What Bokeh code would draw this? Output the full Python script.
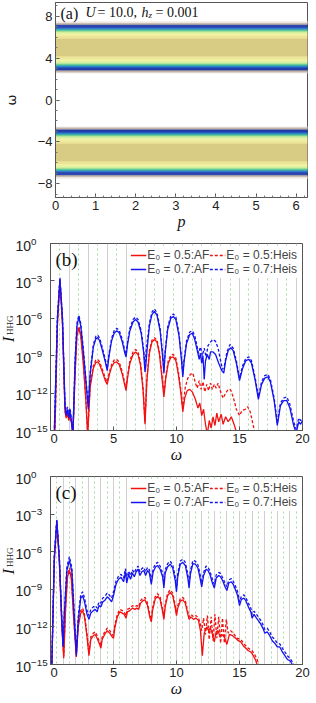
import numpy as np
from bokeh.plotting import figure
from bokeh.models import (Range1d, FixedTicker, Label, Legend, LegendItem,
                          LinearColorMapper, ColumnDataSource, CustomJSTickFormatter)
from bokeh.layouts import column, row
from bokeh.core.properties import value
from bokeh.embed import file_html
from bokeh.resources import INLINE

# ---------------- panel (a): spectral weight vs omega (independent of p) ----------------
p_min, p_max = 0.0, 2 * np.pi
band_edges = [2.55, 2.65, 2.75, 2.85, 2.95, 3.05, 3.15, 3.25, 3.35, 3.45, 3.60, 3.75, 3.95, 4.20,
              5.90, 6.15, 6.35, 6.50, 6.60, 6.70, 6.80, 6.90, 7.00, 7.10, 7.20, 7.30, 7.40, 7.50]
band_weight = [0.03, 0.10, 0.13, 0.95, 1.00, 0.90, 0.80, 0.68, 0.58, 0.48, 0.40, 0.34, 0.30, 0.25,
               0.30, 0.34, 0.42, 0.50, 0.58, 0.68, 0.80, 0.92, 1.00, 0.95, 0.13, 0.10, 0.03]

# ---------------- panel (b): omega0 = 0.75 ; pairs [omega, log10 I] ----------------
b_omega0 = 0.75
b_af05 = [[0.35,-15.2],[0.55,-6.5],[0.75,-2.95],[0.95,-6.5],[1.15,-13.5],[1.25,-14.0],[1.35,-13.6],[1.45,-14.2],
          [1.55,-13.8],[1.65,-14.3],[1.78,-15.3],[1.95,-10.5],[2.1,-7.4],[2.25,-6.8],[2.4,-7.4],[2.6,-9.6],
          [2.8,-12.5],[2.95,-15.3],[3.15,-11.5],[3.4,-10.0],[3.6,-9.55],[3.75,-9.5],[3.9,-9.7],[4.15,-10.4],
          [4.35,-11.0],[4.5,-11.3],[4.65,-10.6],[4.85,-9.9],[5.05,-9.55],[5.25,-9.5],[5.45,-9.7],[5.7,-10.5],
          [5.9,-11.4],[6.0,-11.8],[6.1,-10.9],[6.3,-9.6],[6.55,-8.9],[6.75,-8.7],[6.95,-8.9],[7.15,-9.8],
          [7.35,-11.8],[7.5,-14.5],[7.65,-11.0],[7.85,-8.8],[8.05,-7.9],[8.25,-7.7],[8.45,-7.9],[8.65,-8.9],
          [8.85,-10.8],[9.0,-12.3],[9.15,-10.8],[9.35,-9.6],[9.55,-9.15],[9.75,-9.1],[9.95,-9.4],[10.15,-10.5],
          [10.35,-12.0],[10.5,-13.5],[10.65,-12.4],[10.85,-11.8],[11.05,-11.7],[11.25,-11.9],[11.5,-12.5],
          [11.7,-13.2],[11.85,-12.8],[12.0,-13.8],[12.15,-13.3],[12.3,-14.5],[12.45,-15.3],[12.6,-14.2],
          [12.75,-14.8],[12.9,-13.9],[13.05,-14.6],[13.2,-13.6],[13.35,-14.3],[13.55,-13.7],[13.7,-14.5],
          [13.9,-13.9],[14.1,-14.3],[14.35,-13.9],[14.6,-14.6],[14.8,-15.3]]
b_heis05 = [[0.35,-15.2],[0.55,-6.4],[0.75,-2.9],[0.95,-6.4],[1.15,-13.3],[1.25,-13.9],[1.35,-13.4],[1.45,-14.0],
            [1.55,-13.6],[1.65,-14.2],[1.78,-15.3],[1.95,-10.3],[2.1,-7.2],[2.25,-6.65],[2.4,-7.2],[2.6,-9.4],
            [2.8,-12.3],[2.95,-15.3],[3.15,-11.3],[3.4,-9.8],[3.6,-9.35],[3.75,-9.3],[3.9,-9.5],[4.15,-10.2],
            [4.35,-10.8],[4.5,-11.1],[4.65,-10.4],[4.85,-9.7],[5.05,-9.35],[5.25,-9.3],[5.45,-9.5],[5.7,-10.3],
            [5.9,-11.2],[6.0,-11.6],[6.1,-10.7],[6.3,-9.4],[6.55,-8.7],[6.75,-8.5],[6.95,-8.7],[7.15,-9.6],
            [7.35,-11.6],[7.5,-14.3],[7.65,-10.8],[7.85,-8.6],[8.05,-7.75],[8.25,-7.55],[8.45,-7.75],[8.65,-8.7],
            [8.85,-10.6],[9.0,-12.1],[9.15,-10.6],[9.35,-9.4],[9.55,-8.95],[9.75,-8.9],[9.95,-9.2],[10.15,-10.3],
            [10.35,-11.8],[10.5,-13.2],[10.7,-11.5],[10.9,-10.8],[11.1,-10.5],[11.3,-10.4],[11.5,-11.2],
            [11.65,-11.6],[11.8,-11.0],[11.95,-11.7],[12.1,-11.1],[12.25,-11.9],[12.4,-11.3],[12.55,-11.8],
            [12.7,-11.2],[12.85,-11.7],[13.0,-11.3],[13.15,-11.6],[13.3,-11.2],[13.5,-11.9],[13.7,-12.4],
            [13.9,-12.0],[14.1,-11.7],[14.3,-11.75],[14.5,-12.3],[14.75,-13.3],[15.0,-13.8],[15.2,-13.4],
            [15.45,-13.3],[15.65,-13.1],[15.85,-13.5],[16.05,-14.4],[16.25,-15.3]]
b_af07 = [[0.30,-15.2],[0.55,-6.0],[0.75,-2.85],[0.95,-6.0],[1.15,-13.0],[1.25,-13.8],[1.35,-13.3],[1.45,-14.0],
          [1.55,-13.4],[1.65,-14.2],[1.78,-15.3],[1.95,-9.5],[2.10,-6.6],[2.25,-5.9],[2.40,-6.6],[2.60,-8.6],
          [2.85,-11.5],[3.00,-13.3],[3.15,-10.5],[3.40,-8.3],[3.60,-7.65],[3.75,-7.55],[3.90,-7.8],[4.10,-8.5],
          [4.35,-9.5],[4.50,-10.2],[4.65,-9.0],[4.85,-7.8],[5.05,-7.2],[5.25,-7.0],[5.45,-7.15],[5.70,-7.9],
          [5.90,-8.8],[6.00,-9.1],[6.10,-8.2],[6.30,-7.0],[6.55,-6.3],[6.75,-6.1],[6.95,-6.3],[7.20,-7.2],
          [7.40,-8.8],[7.45,-9.6],[7.50,-10.3],[7.55,-10.0],[7.65,-8.7],[7.85,-6.6],[8.05,-5.7],[8.25,-5.45],
          [8.45,-5.75],[8.70,-7.0],[8.90,-9.1],[9.00,-10.4],[9.10,-8.8],[9.30,-6.9],[9.55,-6.0],[9.75,-5.85],
          [9.95,-6.1],[10.20,-7.4],[10.40,-9.4],[10.50,-10.7],[10.60,-9.5],[10.80,-8.0],[11.05,-7.3],[11.25,-7.2],
          [11.45,-7.7],[11.65,-8.6],[11.80,-9.3],[11.90,-8.8],[12.00,-9.6],[12.10,-9.0],[12.20,-10.9],[12.30,-9.4],
          [12.45,-8.9],[12.60,-9.3],[12.70,-8.7],[12.90,-8.7],[13.10,-8.9],[13.35,-9.6],[13.60,-10.2],[13.75,-10.4],
          [13.90,-9.4],[14.10,-8.6],[14.30,-8.35],[14.50,-8.6],[14.75,-9.6],[15.00,-11.0],[15.25,-10.0],[15.50,-9.4],
          [15.75,-9.3],[15.95,-9.6],[16.25,-11.0],[16.50,-12.5],[16.75,-11.3],[17.00,-10.8],[17.25,-10.7],
          [17.45,-11.1],[17.75,-12.6],[18.00,-14.6],[18.25,-13.0],[18.50,-12.6],[18.75,-12.6],[19.00,-13.2],
          [19.30,-14.6],[19.50,-15.2],[19.70,-14.3],[19.85,-14.5],[20.00,-14.2]]
b_heis07 = [[0.30,-15.2],[0.55,-5.9],[0.75,-2.75],[0.95,-5.9],[1.15,-12.8],[1.25,-13.6],[1.35,-13.1],[1.45,-13.8],
            [1.55,-13.2],[1.65,-14.0],[1.78,-15.3],[1.95,-9.3],[2.10,-6.4],[2.25,-5.75],[2.40,-6.4],[2.60,-8.4],
            [2.85,-11.3],[3.00,-13.1],[3.15,-10.3],[3.40,-8.1],[3.60,-7.45],[3.75,-7.35],[3.90,-7.6],[4.10,-8.3],
            [4.35,-9.3],[4.50,-10.0],[4.65,-8.8],[4.85,-7.6],[5.05,-7.0],[5.25,-6.8],[5.45,-6.95],[5.70,-7.7],
            [5.90,-8.6],[6.00,-8.9],[6.10,-8.0],[6.30,-6.8],[6.55,-6.1],[6.75,-5.9],[6.95,-6.1],[7.20,-7.0],
            [7.40,-8.6],[7.50,-9.9],[7.60,-8.5],[7.85,-6.4],[8.05,-5.5],[8.25,-5.25],[8.45,-5.55],[8.70,-6.8],
            [8.90,-8.9],[9.00,-10.2],[9.10,-8.6],[9.30,-6.7],[9.55,-5.8],[9.75,-5.65],[9.95,-5.9],[10.20,-7.2],
            [10.40,-9.2],[10.50,-10.5],[10.60,-9.3],[10.80,-7.8],[11.05,-7.1],[11.25,-7.0],[11.45,-7.4],
            [11.60,-8.1],[11.75,-8.8],[11.90,-8.3],[12.05,-9.0],[12.20,-8.4],[12.35,-9.1],[12.50,-8.2],
            [12.70,-7.9],[12.90,-7.7],[13.10,-7.85],[13.30,-8.4],[13.50,-9.4],[13.65,-10.1],[13.80,-9.8],
            [14.00,-8.7],[14.25,-8.1],[14.50,-8.4],[14.75,-9.4],[15.00,-10.8],[15.25,-9.8],[15.50,-9.2],
            [15.75,-9.1],[15.95,-9.4],[16.25,-10.8],[16.50,-12.3],[16.75,-11.1],[17.00,-10.6],[17.25,-10.5],
            [17.45,-10.9],[17.75,-12.4],[18.00,-14.4],[18.25,-12.8],[18.50,-12.4],[18.75,-12.3],[19.00,-12.9],
            [19.30,-14.3],[19.50,-14.9],[19.70,-14.0],[19.85,-14.2],[20.00,-14.0]]

# ---------------- panel (c): omega0 = 0.5 ; pairs [omega, log10 I] ----------------
c_omega0 = 0.5
c_af05 = [[0.1,-15.3],[0.3,-6.8],[0.5,-3.65],[0.7,-6.8],[0.9,-12.0],[1.05,-14.5],[1.2,-10.5],[1.35,-8.0],
          [1.5,-7.5],[1.65,-8.1],[1.85,-11.5],[2.05,-14.4],[2.2,-12.0],[2.4,-10.9],[2.55,-10.7],[2.7,-11.2],
          [2.9,-12.8],[3.05,-14.3],[3.2,-13.0],[3.4,-12.7],[3.55,-12.6],[3.7,-12.9],[3.9,-13.4],[4.0,-13.7],
          [4.1,-13.0],[4.3,-12.6],[4.5,-12.3],[4.7,-12.5],[4.9,-12.8],[5.0,-12.9],[5.1,-12.1],[5.3,-11.2],
          [5.5,-10.8],[5.7,-10.9],[5.85,-11.0],[6.0,-11.3],[6.1,-10.8],[6.3,-10.7],[6.5,-10.5],[6.7,-10.6],
          [6.85,-10.5],[7.0,-10.6],[7.15,-10.1],[7.35,-9.9],[7.5,-9.85],[7.7,-10.3],[7.9,-11.3],[8.0,-11.6],
          [8.1,-10.7],[8.3,-9.8],[8.5,-9.55],[8.7,-9.8],[8.9,-10.8],[9.0,-11.4],[9.1,-10.4],[9.3,-9.5],
          [9.5,-9.25],[9.7,-9.5],[9.9,-10.5],[10.0,-11.1],[10.1,-10.5],[10.3,-9.95],[10.5,-9.85],[10.7,-10.1],
          [10.9,-11.0],[11.0,-11.4],[11.15,-11.2],[11.35,-11.4],[11.55,-11.3],[11.75,-11.5],[11.9,-12.3],
          [12.05,-14.3],[12.2,-12.5],[12.4,-12.0],[12.55,-12.3],[12.7,-12.1],[12.85,-12.6],[13.0,-13.2],
          [13.15,-12.4],[13.3,-12.3],[13.45,-12.8],[13.6,-12.6],[13.8,-12.8],[14.0,-13.4],[14.2,-12.6],
          [14.45,-12.7],[14.7,-12.9],[14.9,-13.1],[15.1,-13.2],[15.3,-13.5],[15.5,-13.7],[15.7,-13.9],
          [15.9,-14.0],[16.1,-14.3],[16.3,-14.7],[16.45,-15.2]]
c_heis05 = [[0.1,-15.3],[0.3,-6.7],[0.5,-3.55],[0.7,-6.7],[0.9,-11.8],[1.05,-14.3],[1.2,-10.3],[1.35,-7.8],
            [1.5,-7.3],[1.65,-7.9],[1.85,-11.3],[2.05,-14.2],[2.2,-11.8],[2.4,-10.7],[2.55,-10.5],[2.7,-11.0],
            [2.9,-12.6],[3.05,-14.1],[3.2,-12.8],[3.4,-12.5],[3.55,-12.4],[3.7,-12.7],[3.9,-13.2],[4.0,-13.5],
            [4.1,-12.8],[4.3,-12.4],[4.5,-12.1],[4.7,-12.3],[4.9,-12.6],[5.0,-12.7],[5.1,-11.9],[5.3,-11.0],
            [5.5,-10.6],[5.7,-10.7],[5.85,-10.8],[6.0,-11.1],[6.1,-10.6],[6.3,-10.5],[6.5,-10.3],[6.7,-10.4],
            [6.85,-10.3],[7.0,-10.4],[7.15,-9.9],[7.35,-9.7],[7.5,-9.65],[7.7,-10.1],[7.9,-11.1],[8.0,-11.4],
            [8.1,-10.5],[8.3,-9.6],[8.5,-9.35],[8.7,-9.6],[8.9,-10.6],[9.0,-11.2],[9.1,-10.2],[9.3,-9.3],
            [9.5,-9.05],[9.7,-9.3],[9.9,-10.3],[10.0,-10.9],[10.1,-10.3],[10.3,-9.75],[10.5,-9.65],[10.7,-9.9],
            [10.9,-10.8],[11.0,-11.2],[11.15,-11.0],[11.35,-11.2],[11.55,-11.1],[11.75,-11.3],[11.9,-11.8],
            [12.0,-12.3],[12.15,-11.3],[12.3,-12.6],[12.45,-11.1],[12.6,-13.0],[12.75,-11.2],[12.9,-13.1],
            [13.05,-11.0],[13.2,-12.9],[13.35,-11.2],[13.5,-13.3],[13.65,-11.3],[13.8,-13.3],[13.95,-11.4],
            [14.1,-12.5],[14.3,-12.3],[14.5,-12.5],[14.8,-12.9],[15.1,-13.0],[15.4,-13.4],[15.7,-13.7],
            [16.0,-13.9],[16.2,-14.2],[16.4,-14.6],[16.55,-15.2]]
c_af07 = [[0.1,-15.3],[0.3,-6.5],[0.5,-3.55],[0.7,-6.5],[0.9,-11.5],[1.0,-13.6],[1.1,-11.0],[1.3,-7.5],
          [1.5,-6.7],[1.7,-7.6],[1.9,-11.5],[2.05,-14.3],[2.2,-11.5],[2.4,-9.7],[2.55,-9.5],[2.7,-10.0],
          [2.9,-11.0],[3.05,-11.4],[3.2,-10.9],[3.4,-10.7],[3.55,-10.6],[3.7,-10.8],[3.85,-10.3],[4.0,-10.4],
          [4.15,-10.0],[4.3,-9.9],[4.5,-9.6],[4.7,-9.8],[4.85,-10.0],[5.0,-9.5],[5.2,-8.6],[5.4,-8.2],
          [5.6,-8.05],[5.8,-8.4],[5.95,-7.6],[6.05,-8.5],[6.2,-7.8],[6.35,-8.2],[6.5,-7.7],[6.65,-8.0],
          [6.8,-7.6],[6.95,-7.4],[7.1,-7.9],[7.25,-7.6],[7.4,-7.5],[7.55,-7.9],[7.7,-7.5],[7.85,-7.7],
          [8.0,-8.6],[8.15,-7.6],[8.35,-7.2],[8.5,-7.1],[8.7,-7.4],[8.9,-8.0],[9.0,-8.9],[9.1,-7.7],
          [9.3,-7.2],[9.5,-7.0],[9.7,-7.3],[9.9,-8.3],[10.0,-9.2],[10.1,-8.0],[10.3,-7.0],[10.5,-6.85],
          [10.7,-7.1],[10.9,-8.1],[11.0,-8.9],[11.1,-7.8],[11.3,-6.95],[11.5,-7.0],[11.7,-7.3],[11.85,-8.0],
          [12.0,-8.8],[12.15,-7.9],[12.35,-7.4],[12.5,-7.5],[12.65,-7.8],[12.85,-8.5],[13.0,-8.9],[13.15,-8.1],
          [13.35,-7.9],[13.5,-8.0],[13.7,-8.4],[13.85,-8.8],[14.0,-9.1],[14.15,-8.5],[14.35,-8.4],[14.5,-8.6],
          [14.7,-9.1],[14.85,-9.5],[15.0,-10.3],[15.15,-9.8],[15.35,-9.7],[15.5,-9.9],[15.7,-10.4],[15.9,-10.8],
          [16.0,-11.3],[16.15,-11.0],[16.35,-11.3],[16.5,-11.5],[16.7,-11.8],[16.9,-12.2],[17.0,-12.5],
          [17.2,-12.4],[17.4,-12.7],[17.6,-13.1],[17.8,-13.3],[18.0,-13.6],[18.2,-13.6],[18.4,-14.0],
          [18.6,-14.3],[18.8,-14.6],[19.0,-14.7],[19.2,-15.0],[19.35,-15.3]]
c_heis07 = [[0.1,-15.3],[0.3,-6.3],[0.5,-3.4],[0.7,-6.3],[0.9,-11.3],[1.0,-13.4],[1.1,-10.8],[1.3,-7.2],
            [1.5,-6.4],[1.7,-7.3],[1.9,-11.2],[2.05,-14.1],[2.2,-11.2],[2.4,-9.4],[2.55,-9.2],[2.7,-9.7],
            [2.9,-10.7],[3.05,-11.1],[3.2,-10.6],[3.4,-10.4],[3.55,-10.3],[3.7,-10.5],[3.85,-10.0],[4.0,-10.1],
            [4.15,-9.7],[4.3,-9.6],[4.5,-9.3],[4.7,-9.5],[4.85,-9.7],[5.0,-9.2],[5.2,-8.35],[5.4,-7.95],
            [5.6,-7.8],[5.8,-8.1],[5.95,-7.35],[6.05,-8.2],[6.2,-7.55],[6.35,-7.9],[6.5,-7.45],[6.65,-7.7],
            [6.8,-7.35],[6.95,-7.15],[7.1,-7.6],[7.25,-7.35],[7.4,-7.25],[7.55,-7.6],[7.7,-7.25],[7.85,-7.45],
            [8.0,-8.3],[8.15,-7.35],[8.35,-6.95],[8.5,-6.85],[8.7,-7.15],[8.9,-7.7],[9.0,-8.6],[9.1,-7.45],
            [9.3,-6.95],[9.5,-6.75],[9.7,-7.05],[9.9,-8.0],[10.0,-8.9],[10.1,-7.75],[10.3,-6.75],[10.5,-6.6],
            [10.7,-6.85],[10.9,-7.8],[11.0,-8.6],[11.1,-7.55],[11.3,-6.7],[11.5,-6.75],[11.7,-7.05],[11.85,-7.7],
            [12.0,-8.5],[12.15,-7.65],[12.35,-7.15],[12.5,-7.25],[12.65,-7.55],[12.85,-8.2],[13.0,-8.6],
            [13.15,-7.85],[13.35,-7.65],[13.5,-7.75],[13.7,-8.15],[13.85,-8.5],[14.0,-8.8],[14.15,-8.25],
            [14.35,-8.15],[14.5,-8.35],[14.7,-8.8],[14.85,-9.2],[15.0,-10.0],[15.15,-9.55],[15.35,-9.45],
            [15.5,-9.65],[15.7,-10.1],[15.9,-10.5],[16.0,-11.0],[16.15,-10.75],[16.35,-11.0],[16.5,-11.2],
            [16.7,-11.5],[16.9,-11.9],[17.0,-12.2],[17.2,-12.1],[17.4,-12.4],[17.6,-12.8],[17.8,-13.0],
            [18.0,-13.3],[18.2,-13.35],[18.4,-13.7],[18.6,-14.0],[18.8,-14.3],[19.0,-14.5],[19.2,-14.8],
            [19.4,-15.3]]

x_ticks_hhg = [0, 5, 10, 15, 20]
y_ticks_hhg = [1e0, 1e-3, 1e-6, 1e-9, 1e-12, 1e-15]
legend_labels = ["E\u2080 = 0.5:AF", "E\u2080 = 0.5:Heis", "E\u2080 = 0.7:AF", "E\u2080 = 0.7:Heis"]

# ---------------- styling helpers ----------------
SANS = "Liberation Sans"
SERIF = "Liberation Serif"
RED = "#f21010"
BLUE = "#1414f0"


def palette_from(anchors, n=256):
    out = []
    pos = [a[0] for a in anchors]
    rgb = [tuple(int(a[1][i:i + 2], 16) for i in (1, 3, 5)) for a in anchors]
    for t in np.linspace(0, 1, n):
        cols = [int(round(np.interp(t, pos, [c[k] for c in rgb]))) for k in range(3)]
        out.append("#%02x%02x%02x" % tuple(cols))
    return out


cmap_anchors = [(0.0, "#ffffff"), (0.06, "#e6ded8"), (0.12, "#b8a89e"), (0.25, "#d8ca84"),
                (0.32, "#f5f0a0"), (0.42, "#def3a2"), (0.52, "#98de8a"), (0.62, "#3cbc9c"),
                (0.74, "#2c92c8"), (0.86, "#2a62c6"), (1.0, "#2034a6")]


def style_axes(p, tick_font_size):
    for ax in list(p.xaxis) + list(p.yaxis):
        ax.major_tick_in = 4
        ax.major_tick_out = 0
        ax.minor_tick_in = 2
        ax.minor_tick_out = 0
        ax.major_label_standoff = 3
        ax.axis_line_color = "#555555"
        ax.major_tick_line_color = "#555555"
        ax.minor_tick_line_color = "#777777"
        ax.major_label_text_font = SANS
        ax.major_label_text_font_size = tick_font_size
        ax.major_label_text_color = "#222222"
        ax.axis_label_text_font = SERIF
        ax.axis_label_text_font_style = "italic"
        ax.axis_label_text_font_size = "16px"
        ax.axis_label_text_color = "#111111"
    p.outline_line_color = "#555555"
    p.xgrid.visible = False
    p.ygrid.visible = False
    p.background_fill_color = "white"


# ---------------- panel (a) ----------------
pa = figure(frame_width=252, frame_height=195, x_range=Range1d(p_min, p_max), y_range=Range1d(-9.3, 9.3),
            output_backend="svg", toolbar_location=None, min_border_left=46, min_border_right=8,
            min_border_top=2, min_border_bottom=0)
mapper = LinearColorMapper(palette=palette_from(cmap_anchors), low=0.0, high=1.0)
lo = np.array(band_edges[:-1])
hi = np.array(band_edges[1:])
w = np.array(band_weight)
band_src = ColumnDataSource(dict(bottom=np.concatenate([lo, -hi]), top=np.concatenate([hi, -lo]),
                                 weight=np.concatenate([w, w])))
pa.quad(left=p_min, right=p_max, bottom="bottom", top="top", source=band_src,
        fill_color={"field": "weight", "transform": mapper},
        line_color={"field": "weight", "transform": mapper}, line_width=0.6)
style_axes(pa, "13px")
pa.xaxis.ticker = FixedTicker(ticks=[0, 1, 2, 3, 4, 5, 6], minor_ticks=list(np.arange(0, 6.3, 0.2)))
pa.yaxis.ticker = FixedTicker(ticks=[-8, -4, 0, 4, 8], minor_ticks=list(range(-9, 10)))
pa.yaxis.major_label_overrides = {-8: "\u22128", -4: "\u22124"}
pa.xaxis.axis_label = "p"
pa.yaxis.axis_label = "ω"
pa.yaxis.axis_label_text_font_style = "normal"
pa.yaxis.axis_label_text_font = "DejaVu Sans"
pa.yaxis.axis_label_text_font_size = "13px"
pa.yaxis.axis_label_standoff = 16
pa.xaxis.axis_label_standoff = 0

a_parts = [("(a)", 5, "normal", "16px", 0), ("U", 30, "italic", "14px", 0), ("= 10.0,", 42, "normal", "14px", 0),
           ("h", 86, "italic", "14px", 0), ("z", 93, "italic", "9px", -5), ("= 0.001", 100, "normal", "14px", 0)]
for txt, xo, sty, fs, yo in a_parts:
    pa.add_layout(Label(x=p_min, y=9.3, x_offset=xo, y_offset=-2 + yo, text=txt, text_font=SERIF,
                        text_font_style=sty, text_font_size=fs, text_baseline="top", text_color="#111111"))

TOP_B, BOT_B = 11, 26


# ---------------- HHG panels ----------------
def hhg_panel(tag, omega0, series, height):
    p = figure(frame_width=252, frame_height=height, x_range=Range1d(0, 20), y_range=Range1d(1e-15, 1e0),
               y_axis_type="log", output_backend="svg", toolbar_location=None, min_border_left=0,
               min_border_right=8, min_border_top=TOP_B, min_border_bottom=BOT_B)
    even = [n * omega0 for n in range(2, 60, 2) if n * omega0 < 20]
    odd = [n * omega0 for n in range(1, 60, 2) if n * omega0 < 20]
    p.vspan(x=even, line_color="#cfcfcf", line_width=1)
    p.vspan(x=odd, line_color="#a9d9a9", line_width=1, line_dash="2 3")
    renderers = []
    for data, color, dash in series:
        arr = np.array(data)
        r = p.line(arr[:, 0], 10.0 ** arr[:, 1], line_color=color, line_width=1.3, line_dash=dash)
        renderers.append(r)
    style_axes(p, "13px")
    p.xaxis.ticker = FixedTicker(ticks=x_ticks_hhg, minor_ticks=[])
    p.yaxis.ticker = FixedTicker(ticks=y_ticks_hhg, minor_ticks=[])
    p.yaxis.formatter = CustomJSTickFormatter(code="return ''")
    p.yaxis.major_label_standoff = 0
    p.xaxis.axis_label = "ω"
    p.xaxis.axis_label_standoff = 0
    leg = Legend(items=[LegendItem(label=legend_labels[0], renderers=[renderers[0]]),
                        LegendItem(label=legend_labels[2], renderers=[renderers[2]]),
                        LegendItem(label=legend_labels[1], renderers=[renderers[1]]),
                        LegendItem(label=legend_labels[3], renderers=[renderers[3]])],
                 location="top_right", nrows=2, orientation="vertical",
                 label_text_font=SANS, label_text_font_size="12px", label_height=12,
                 glyph_height=12, glyph_width=16, label_standoff=1, spacing=0, padding=2, margin=3,
                 border_line_alpha=0, background_fill_alpha=1.0)
    p.add_layout(leg)
    p.add_layout(Label(x=0, y=1e0, x_offset=5, y_offset=-5, text=tag, text_font=SERIF,
                       text_font_size="19px", text_baseline="top", text_color="#111111"))
    return p


def ylabel_strip(p, i_y, hhg_y):
    # strip left of the HHG frame: rotated I_HHG title plus the log tick labels (right-side axis)
    s = figure(frame_width=14, frame_height=p.frame_height, x_range=Range1d(0, 1), y_range=p.y_range,
               y_axis_type="log", y_axis_location="right", x_axis_location=None,
               output_backend="svg", toolbar_location=None, min_border_left=0, min_border_right=0,
               min_border_top=TOP_B, min_border_bottom=BOT_B)
    s.outline_line_color = None
    s.xgrid.visible = False
    s.ygrid.visible = False
    ax = s.yaxis[0]
    ax.ticker = FixedTicker(ticks=y_ticks_hhg, minor_ticks=[])
    ax.axis_line_color = None
    ax.major_tick_line_color = None
    ax.minor_tick_line_color = None
    ax.major_tick_in = 0
    ax.major_tick_out = 0
    ax.major_label_standoff = 1
    ax.major_label_text_font = SANS
    ax.major_label_text_font_size = "14px"
    ax.major_label_text_color = "#222222"
    s.text(x=[0.58], y=[10 ** i_y], text=["I"], angle=np.pi / 2, text_font=value(SERIF),
           text_font_style="italic", text_font_size="17px", text_align="center",
           text_baseline="middle", text_color="#111111")
    s.text(x=[0.70], y=[10 ** hhg_y], text=["HHG"], angle=np.pi / 2, text_font=value(SERIF),
           text_font_size="9px", text_align="center", text_baseline="middle", text_color="#111111")
    return s


pb = hhg_panel("(b)", b_omega0, [(b_af05, RED, "solid"), (b_heis05, RED, "3 2"),
                                 (b_af07, BLUE, "solid"), (b_heis07, BLUE, "3 2")], 187)
pc = hhg_panel("(c)", c_omega0, [(c_af05, RED, "solid"), (c_heis05, RED, "3 2"),
                                 (c_af07, BLUE, "solid"), (c_heis07, BLUE, "3 2")], 188)
sb = ylabel_strip(pb, -7.7, -6.55)
sc = ylabel_strip(pc, -7.6, -6.45)

layout = column(pa, row(sb, pb, spacing=0), row(sc, pc, spacing=0), spacing=0)
open("out.html", "w").write(file_html(layout, INLINE, title="HHG"))
